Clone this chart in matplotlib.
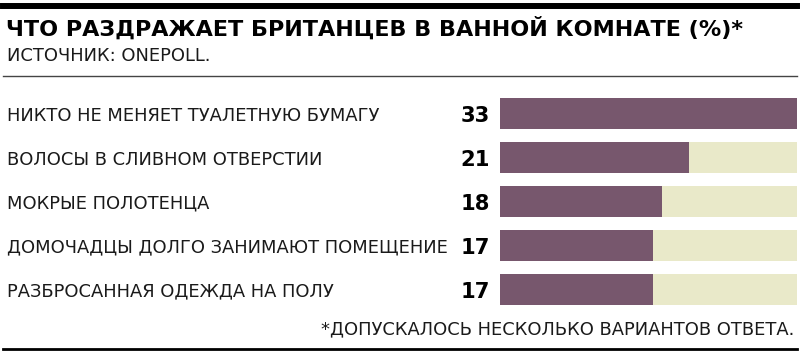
import matplotlib
matplotlib.use("Agg")
import matplotlib.pyplot as plt
import matplotlib.transforms as mtransforms

plt.rcParams["font.family"] = ["DejaVu Sans"]

# data
title = "ЧТО РАЗДРАЖАЕТ БРИТАНЦЕВ В ВАННОЙ КОМНАТЕ (%)*"
source = "ИСТОЧНИК: ONEPOLL."
footnote = "*ДОПУСКАЛОСЬ НЕСКОЛЬКО ВАРИАНТОВ ОТВЕТА."
categories = [
    "НИКТО НЕ МЕНЯЕТ ТУАЛЕТНУЮ БУМАГУ",
    "ВОЛОСЫ В СЛИВНОМ ОТВЕРСТИИ",
    "МОКРЫЕ ПОЛОТЕНЦА",
    "ДОМОЧАДЦЫ ДОЛГО ЗАНИМАЮТ ПОМЕЩЕНИЕ",
    "РАЗБРОСАННАЯ ОДЕЖДА НА ПОЛУ",
]
values = [33, 21, 18, 17, 17]

W, H = 800, 355
PURPLE = "#77576d"
CREAM = "#e9e9c9"
TEXT = "#1a1a1a"

fig = plt.figure(figsize=(W / 100, H / 100), dpi=100)


def fx(px):
    return px / W


def fy(py):
    return 1 - py / H


# header and footer rules
fig.add_artist(plt.Line2D([fx(3), fx(797)], [fy(5.5), fy(5.5)], color="black", lw=4.3))
fig.add_artist(plt.Line2D([fx(3), fx(797)], [fy(75.5), fy(75.5)], color="#444444", lw=1.0))
fig.add_artist(plt.Line2D([fx(3), fx(797)], [fy(348.5), fy(348.5)], color="black", lw=2.0))

fig.text(fx(6), fy(36), title, fontsize=16.0, fontweight="bold", color="black",
         ha="left", va="baseline")
fig.text(fx(7), fy(61), source, fontsize=12.9, color=TEXT, ha="left", va="baseline")

# bars
top, bottom = 91.5, 311.5
ax = fig.add_axes([fx(500), fy(bottom), fx(797) - fx(500), (bottom - top) / H])
ypos = list(range(len(categories)))
vmax = max(values)
ax.barh(ypos, [vmax] * len(values), height=0.705, color=CREAM, edgecolor="none")
ax.barh(ypos, values, height=0.705, color=PURPLE, edgecolor="none")
ax.set_xlim(0, vmax)
ax.set_ylim(len(categories) - 0.5, -0.5)
ax.axis("off")

trans = mtransforms.blended_transform_factory(fig.transFigure, ax.transData)
for y, cat, v in zip(ypos, categories, values):
    ax.text(fx(7), y, cat, transform=trans, fontsize=12.9, color=TEXT,
            ha="left", va="center_baseline")
    ax.text(fx(490), y, str(v), transform=trans, fontsize=15.2, fontweight="bold",
            color="black", ha="right", va="center_baseline")

fig.text(fx(794), fy(334), footnote, fontsize=12.9, color=TEXT, ha="right", va="baseline")

fig.savefig("out.png", dpi=100)
